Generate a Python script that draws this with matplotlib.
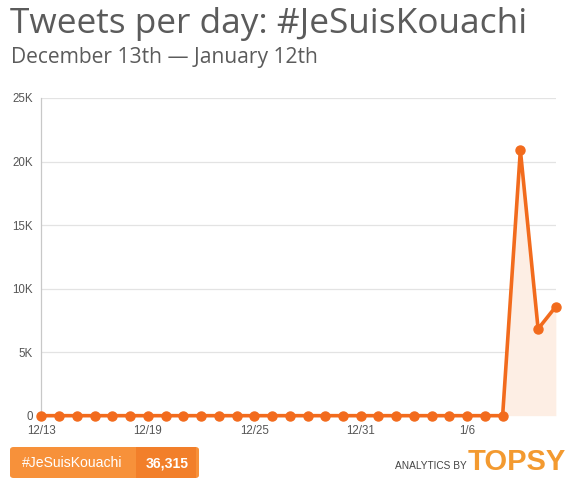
import matplotlib

matplotlib.use("Agg")
import matplotlib.pyplot as plt
from matplotlib.patches import FancyBboxPatch, Rectangle
from matplotlib.ticker import FuncFormatter

# daily tweet counts, 12/13 .. 1/11
dates = ["12/13", "12/14", "12/15", "12/16", "12/17", "12/18", "12/19", "12/20",
         "12/21", "12/22", "12/23", "12/24", "12/25", "12/26", "12/27", "12/28",
         "12/29", "12/30", "12/31", "1/1", "1/2", "1/3", "1/4", "1/5", "1/6",
         "1/7", "1/8", "1/9", "1/10", "1/11"]
tweets = [0] * 27 + [20900, 6830, 8585]
tick_labels = ["12/13", "12/19", "12/25", "12/31", "1/6"]
y_ticks = [0, 5000, 10000, 15000, 20000, 25000]
total = "36,315"
hashtag = "#JeSuisKouachi"

ORANGE = "#f26b1d"
FILL = "#fdeee4"
TEXT = "#5b5b5b"

fig = plt.figure(figsize=(5.76, 4.86), dpi=100)
ax = fig.add_axes([0.072, 0.1447, 0.893, 0.6537])

x = list(range(len(dates)))
ax.fill_between(x, tweets, 0, color=FILL, lw=0, zorder=1)
ax.plot(x, tweets, color=ORANGE, lw=2.6, marker="o", ms=6.5,
        solid_joinstyle="miter", clip_on=False, zorder=3)

ax.set_xlim(0, len(dates) - 1)
ax.set_ylim(0, 25000)
ax.set_yticks(y_ticks)
ax.yaxis.set_major_formatter(FuncFormatter(lambda v, _: "0" if v == 0 else f"{int(v / 1000)}K"))
ax.set_xticks([dates.index(d) for d in tick_labels])
ax.set_xticklabels(tick_labels)

ax.grid(axis="y", color="#e3e3e3", lw=0.9)
ax.set_axisbelow(True)
for side in ("top", "right", "bottom"):
    ax.spines[side].set_visible(False)
ax.spines["left"].set_color("#c8c8c8")
ax.spines["left"].set_linewidth(0.9)
ax.tick_params(axis="both", length=0, labelsize=8.3, labelcolor="#555555")
ax.tick_params(axis="y", pad=6)
ax.tick_params(axis="x", pad=7)
for lbl in ax.get_xticklabels() + ax.get_yticklabels():
    lbl.set_fontfamily("Liberation Sans")

fig.text(0.017, 0.932, "Tweets per day: #JeSuisKouachi", fontsize=25.4,
         family="Open Sans", color=TEXT, va="baseline")
fig.text(0.019, 0.871, "December 13th \u2014 January 12th", fontsize=15.1,
         family="Open Sans", color=TEXT, va="baseline")

# badge with hashtag and total
badge = FancyBboxPatch((10 / 576, 1 - 478 / 486), 189 / 576, 31 / 486,
                       boxstyle="round,pad=0,rounding_size=0.006",
                       transform=fig.transFigure, facecolor="#f7913a",
                       edgecolor="none")
fig.patches.append(badge)
fig.patches.append(Rectangle((136 / 576, 1 - 478 / 486), 60 / 576, 31 / 486,
                             transform=fig.transFigure, facecolor="#f27f2a",
                             edgecolor="none"))
fig.text(72 / 576, 1 - 463 / 486, hashtag, fontsize=10.1, family="Liberation Sans",
         color="white", ha="center", va="center")
fig.text(167 / 576, 1 - 463 / 486, total, fontsize=10.1, family="Liberation Sans",
         weight="bold", color="white", ha="center", va="center")

fig.text(467 / 576, 1 - 469 / 486, "ANALYTICS BY", fontsize=7.3,
         family="Liberation Sans", color="#444444", ha="right", va="baseline")
fig.text(468 / 576, 1 - 469.5 / 486, "TOPSY", fontsize=21, family="Liberation Sans",
         weight="bold", color="#f39a30", ha="left", va="baseline")

fig.savefig("out.png", dpi=100)
